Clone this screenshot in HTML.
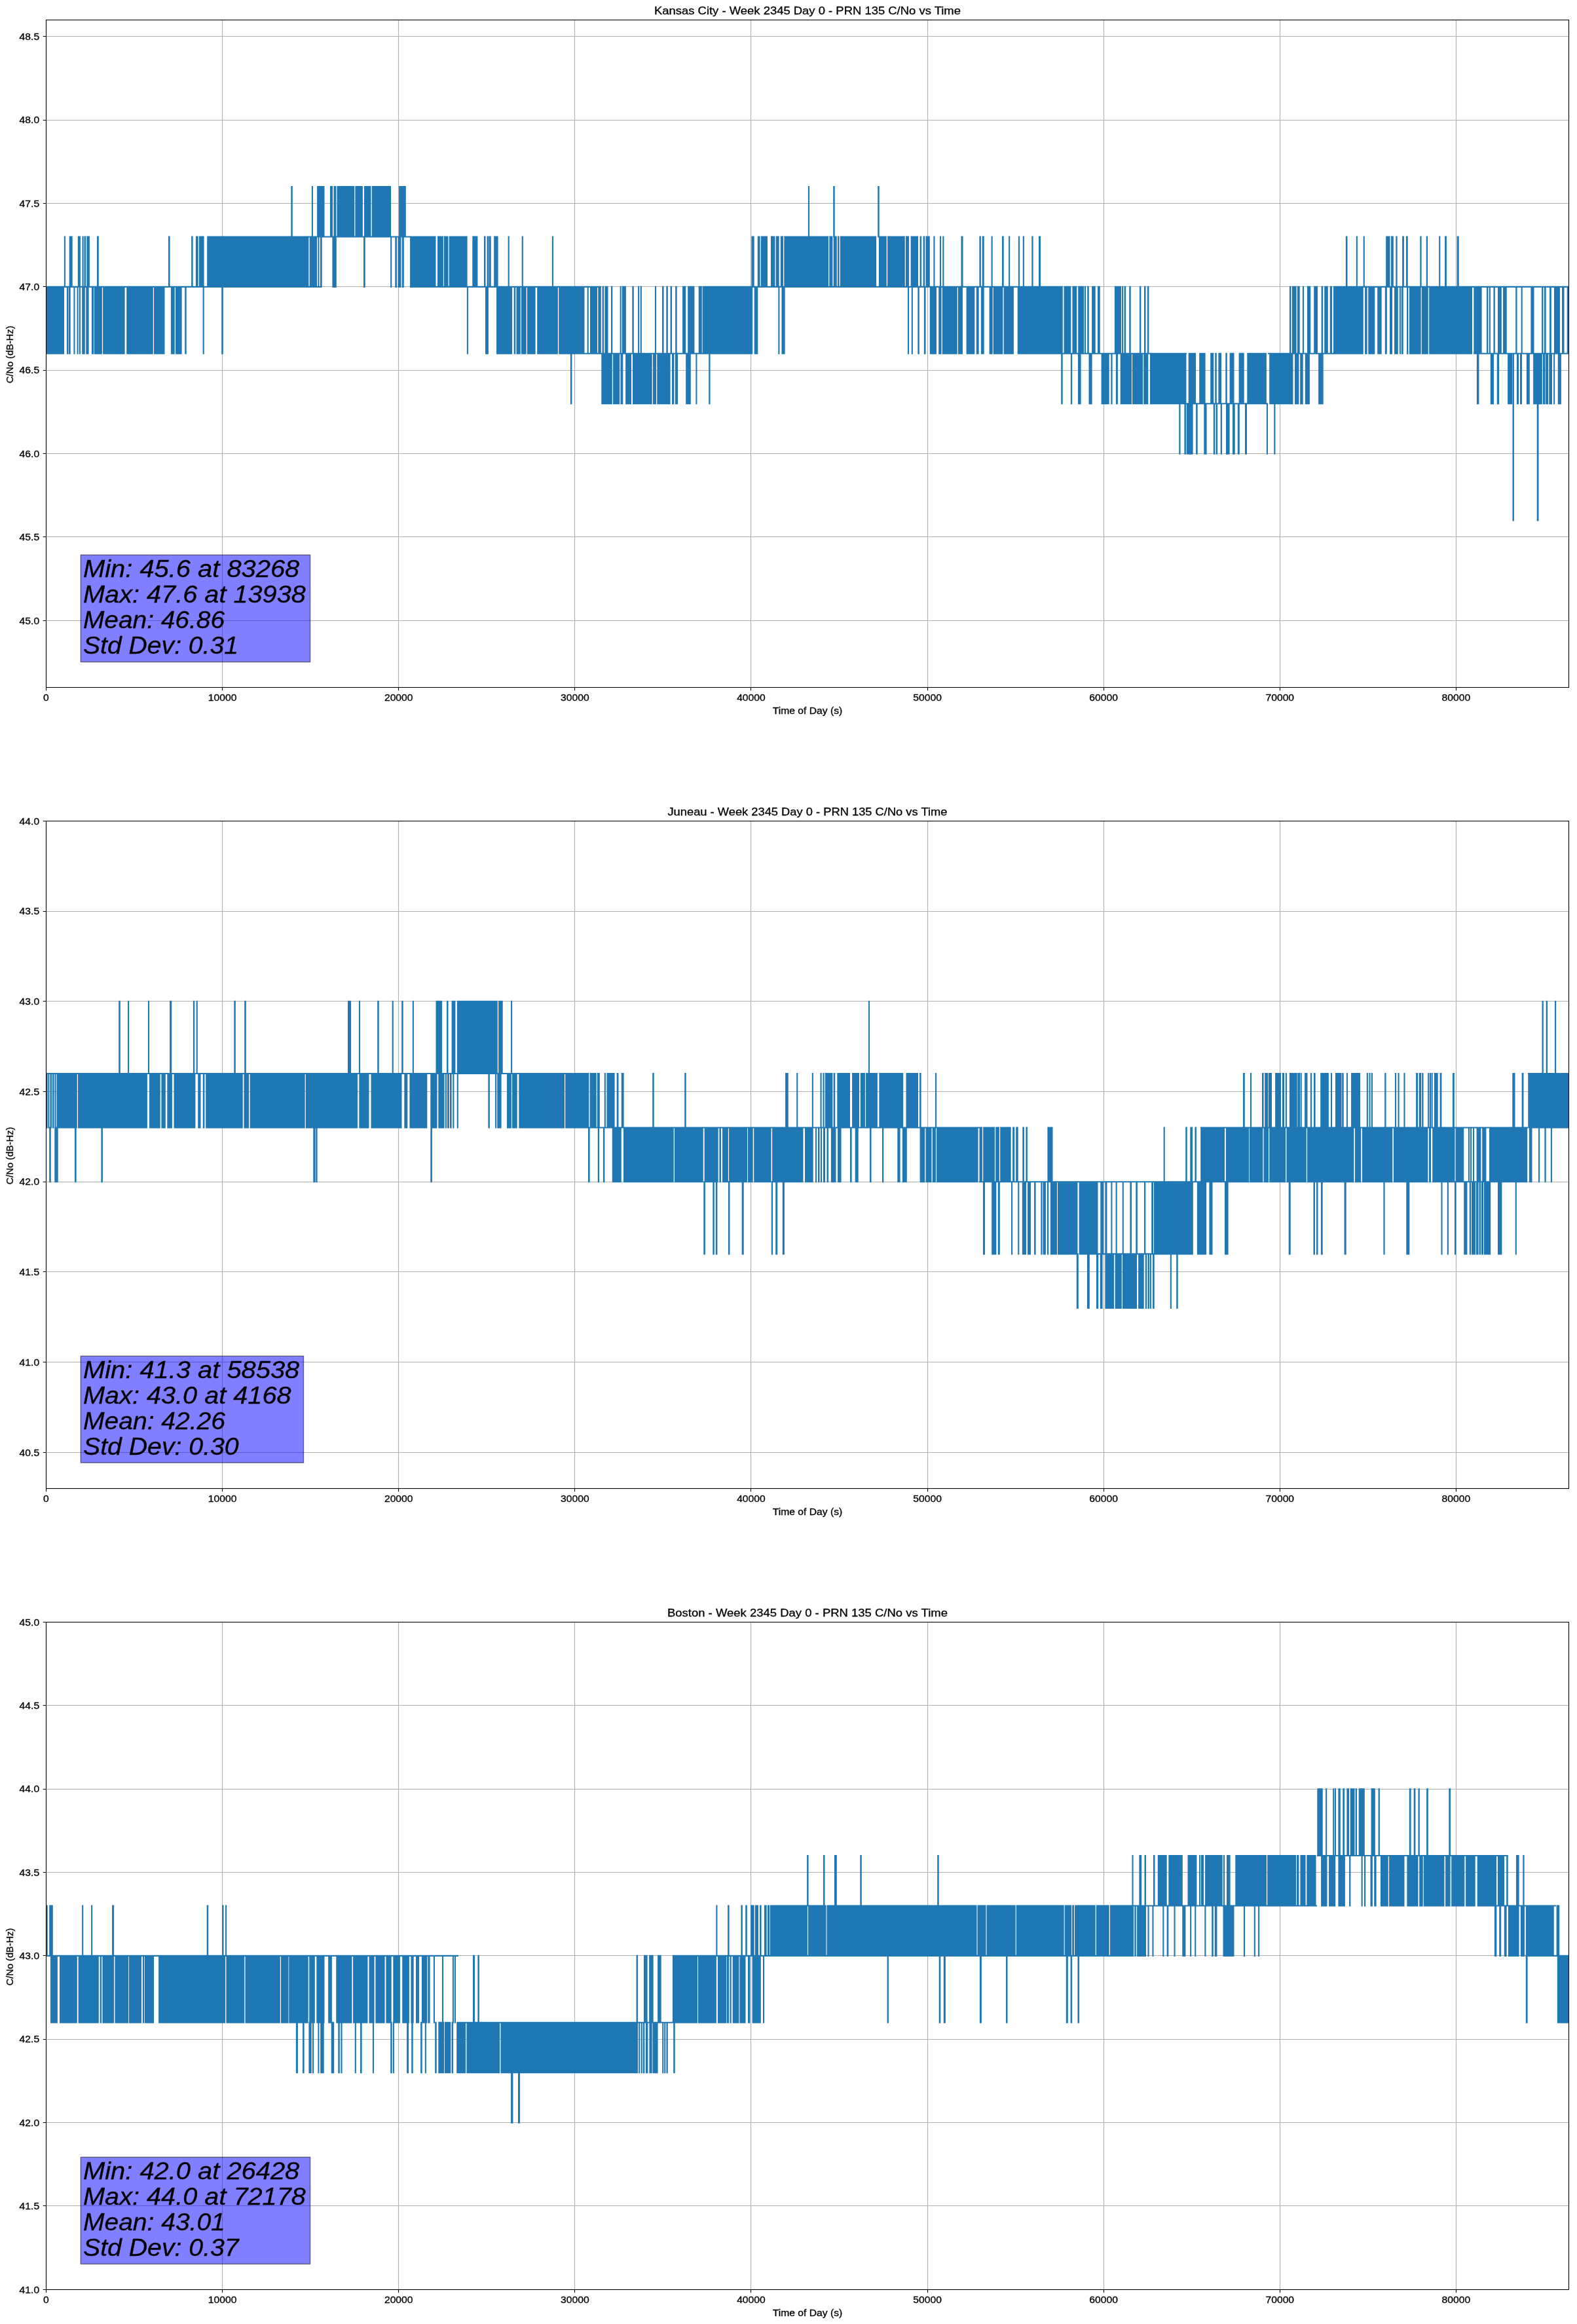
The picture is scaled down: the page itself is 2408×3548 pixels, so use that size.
<!DOCTYPE html><html><head><meta charset="utf-8"><style>html,body{margin:0;padding:0;background:#fff;}svg{display:block;will-change:transform;}text{font-family:"Liberation Sans",sans-serif;fill:#000;stroke:#000;stroke-width:0.3px;}</style></head><body>
<svg width="2408" height="3548" viewBox="0 0 2408 3548">
<rect x="0" y="0" width="2408" height="3548" fill="#fff"/>
<defs><clipPath id="clip0"><rect x="70.5" y="30.3" width="2324.9" height="1018.9000000000001"/></clipPath></defs>
<path d="M339.50 30.30V1049.20M608.50 30.30V1049.20M877.50 30.30V1049.20M1146.50 30.30V1049.20M1416.50 30.30V1049.20M1685.50 30.30V1049.20M1954.50 30.30V1049.20M2223.50 30.30V1049.20M70.50 947.50H2395.40M70.50 819.50H2395.40M70.50 692.50H2395.40M70.50 565.50H2395.40M70.50 437.50H2395.40M70.50 310.50H2395.40M70.50 183.50H2395.40M70.50 55.50H2395.40" stroke="#b0b0b0" stroke-width="1.11" fill="none"/>
<path clip-path="url(#clip0)" d="M97.86 360.40H99.94V438.90H97.86ZM105.70 360.40H110.70V438.90H105.70ZM118.80 360.40H122.90V438.90H118.80ZM125.56 360.40H127.64V438.90H125.56ZM128.50 360.40H131.00V438.90H128.50ZM132.30 360.40H136.90V438.90H132.30ZM148.00 360.40H150.80V438.90H148.00ZM257.00 360.40H259.60V438.90H257.00ZM292.10 360.40H294.60V438.90H292.10ZM298.90 360.40H302.70V438.90H298.90ZM304.00 360.40H311.60V438.90H304.00ZM316.20 360.40H460.00V438.90H316.20ZM460.00 360.40H471.40V438.90H460.00ZM472.70 360.40H484.10V438.90H472.70ZM485.40 360.40H487.50V438.90H485.40ZM489.00 360.40H491.70V438.90H489.00ZM507.40 360.40H513.80V438.90H507.40ZM555.00 360.40H557.70V438.90H555.00ZM596.16 360.40H598.24V438.90H596.16ZM603.30 360.40H606.00V438.90H603.30ZM607.50 360.40H612.50V438.90H607.50ZM613.80 360.40H616.80V438.90H613.80ZM626.10 360.40H665.50V438.90H626.10ZM668.00 360.40H676.90V438.90H668.00ZM678.00 360.40H684.50V438.90H678.00ZM685.70 360.40H713.60V438.90H685.70ZM721.30 360.40H729.40V438.90H721.30ZM739.00 360.40H741.50V438.90H739.00ZM743.60 360.40H746.60V438.90H743.60ZM747.00 360.40H749.70V438.90H747.00ZM754.20 360.40H760.60V438.90H754.20ZM775.66 360.40H777.74V438.90H775.66ZM796.76 360.40H798.84V438.90H796.76ZM842.86 360.40H844.94V438.90H842.86ZM1147.40 360.40H1151.70V438.90H1147.40ZM1156.80 360.40H1160.60V438.90H1156.80ZM1161.80 360.40H1172.00V438.90H1161.80ZM1177.00 360.40H1183.40V438.90H1177.00ZM1184.70 360.40H1189.70V438.90H1184.70ZM1191.80 360.40H1196.00V438.90H1191.80ZM1197.30 360.40H1260.00V438.90H1197.30ZM1260.00 360.40H1265.00V438.90H1260.00ZM1266.30 360.40H1271.40V438.90H1266.30ZM1272.70 360.40H1277.80V438.90H1272.70ZM1279.00 360.40H1281.50V438.90H1279.00ZM1282.80 360.40H1338.10V438.90H1282.80ZM1341.90 360.40H1353.80V438.90H1341.90ZM1355.10 360.40H1381.80V438.90H1355.10ZM1383.00 360.40H1388.10V438.90H1383.00ZM1390.60 360.40H1402.00V438.90H1390.60ZM1404.60 360.40H1407.10V438.90H1404.60ZM1409.60 360.40H1412.20V438.90H1409.60ZM1413.50 360.40H1419.80V438.90H1413.50ZM1425.36 360.40H1427.44V438.90H1425.36ZM1434.96 360.40H1437.04V438.90H1434.96ZM1439.30 360.40H1441.40V438.90H1439.30ZM1467.50 360.40H1470.50V438.90H1467.50ZM1495.40 360.40H1497.90V438.90H1495.40ZM1499.70 360.40H1502.70V438.90H1499.70ZM1513.60 360.40H1515.70V438.90H1513.60ZM1530.00 360.40H1532.70V438.90H1530.00ZM1540.11 360.40H1542.19V438.90H1540.11ZM1554.86 360.40H1556.94V438.90H1554.86ZM1561.80 360.40H1563.90V438.90H1561.80ZM1575.30 360.40H1577.60V438.90H1575.30ZM1586.00 360.40H1589.00V438.90H1586.00ZM2054.90 360.40H2057.50V438.90H2054.90ZM2070.81 360.40H2072.89V438.90H2070.81ZM2081.71 360.40H2083.79V438.90H2081.71ZM2116.20 360.40H2122.50V438.90H2116.20ZM2124.10 360.40H2127.80V438.90H2124.10ZM2131.30 360.40H2133.60V438.90H2131.30ZM2141.10 360.40H2143.90V438.90H2141.10ZM2146.90 360.40H2149.70V438.90H2146.90ZM2168.30 360.40H2170.60V438.90H2168.30ZM2177.80 360.40H2180.10V438.90H2177.80ZM2197.21 360.40H2199.29V438.90H2197.21ZM2206.10 360.40H2208.90V438.90H2206.10ZM2224.70 360.40H2227.70V438.90H2224.70ZM444.30 283.99H446.80V362.48H444.30ZM475.86 283.99H477.94V362.48H475.86ZM484.10 283.99H495.50V362.48H484.10ZM503.90 283.99H508.00V362.48H503.90ZM509.50 283.99H513.30V362.48H509.50ZM514.50 283.99H541.20V362.48H514.50ZM542.40 283.99H553.90V362.48H542.40ZM555.90 283.99H566.50V362.48H555.90ZM567.80 283.99H597.00V362.48H567.80ZM609.10 283.99H619.80V362.48H609.10ZM1233.96 283.99H1236.04V362.48H1233.96ZM1272.20 283.99H1274.70V362.48H1272.20ZM1340.20 283.99H1342.70V362.48H1340.20ZM70.50 436.82H98.00V540.79H70.50ZM101.90 436.82H104.40V540.79H101.90ZM105.00 436.82H107.70V540.79H105.00ZM112.46 436.82H114.54V540.79H112.46ZM117.56 436.82H119.64V540.79H117.56ZM120.86 436.82H122.94V540.79H120.86ZM125.20 436.82H129.80V540.79H125.20ZM131.30 436.82H135.60V540.79H131.30ZM139.90 436.82H143.00V540.79H139.90ZM143.70 436.82H155.90V540.79H143.70ZM157.10 436.82H190.60V540.79H157.10ZM193.20 436.82H233.80V540.79H193.20ZM235.00 436.82H251.50V540.79H235.00ZM260.90 436.82H266.70V540.79H260.90ZM268.00 436.82H277.60V540.79H268.00ZM282.20 436.82H284.70V540.79H282.20ZM309.66 436.82H311.74V540.79H309.66ZM338.20 436.82H340.80V540.79H338.20ZM712.86 436.82H714.94V540.79H712.86ZM741.00 436.82H745.90V540.79H741.00ZM758.00 436.82H782.10V540.79H758.00ZM784.70 436.82H787.20V540.79H784.70ZM788.50 436.82H794.80V540.79H788.50ZM796.00 436.82H803.70V540.79H796.00ZM805.00 436.82H817.60V540.79H805.00ZM820.20 436.82H851.90V540.79H820.20ZM853.20 436.82H860.00V540.79H853.20ZM860.00 436.82H892.50V540.79H860.00ZM896.66 436.82H898.74V540.79H896.66ZM901.00 436.82H912.00V540.79H901.00ZM913.30 436.82H917.80V540.79H913.30ZM919.60 436.82H922.00V540.79H919.60ZM923.40 436.82H928.50V540.79H923.40ZM933.00 436.82H935.30V540.79H933.00ZM946.70 436.82H948.80V540.79H946.70ZM950.00 436.82H955.90V540.79H950.00ZM965.30 436.82H967.80V540.79H965.30ZM974.10 436.82H976.20V540.79H974.10ZM977.81 436.82H979.89V540.79H977.81ZM999.96 436.82H1002.04V540.79H999.96ZM1011.00 436.82H1013.50V540.79H1011.00ZM1017.30 436.82H1019.80V540.79H1017.30ZM1023.60 436.82H1026.10V540.79H1023.60ZM1031.20 436.82H1033.70V540.79H1031.20ZM1042.10 436.82H1047.20V540.79H1042.10ZM1050.20 436.82H1060.40V540.79H1050.20ZM1066.70 436.82H1071.80V540.79H1066.70ZM1072.60 436.82H1149.20V540.79H1072.60ZM1151.70 436.82H1157.30V540.79H1151.70ZM1188.31 436.82H1190.39V540.79H1188.31ZM1193.50 436.82H1198.60V540.79H1193.50ZM1386.00 436.82H1388.10V540.79H1386.00ZM1391.76 436.82H1393.84V540.79H1391.76ZM1401.30 436.82H1403.80V540.79H1401.30ZM1410.90 436.82H1413.50V540.79H1410.90ZM1419.80 436.82H1430.00V540.79H1419.80ZM1433.20 436.82H1437.60V540.79H1433.20ZM1438.80 436.82H1461.70V540.79H1438.80ZM1462.90 436.82H1470.00V540.79H1462.90ZM1475.60 436.82H1488.30V540.79H1475.60ZM1490.80 436.82H1494.60V540.79H1490.80ZM1497.90 436.82H1502.70V540.79H1497.90ZM1510.60 436.82H1515.70V540.79H1510.60ZM1516.70 436.82H1531.40V540.79H1516.70ZM1532.70 436.82H1547.90V540.79H1532.70ZM1553.70 436.82H1622.70V540.79H1553.70ZM1624.50 436.82H1635.40V540.79H1624.50ZM1637.40 436.82H1644.30V540.79H1637.40ZM1646.20 436.82H1655.10V540.79H1646.20ZM1656.01 436.82H1658.09V540.79H1656.01ZM1660.20 436.82H1662.70V540.79H1660.20ZM1667.10 436.82H1672.70V540.79H1667.10ZM1676.00 436.82H1679.80V540.79H1676.00ZM1701.90 436.82H1712.00V540.79H1701.90ZM1713.11 436.82H1715.19V540.79H1713.11ZM1716.60 436.82H1719.10V540.79H1716.60ZM1724.20 436.82H1726.70V540.79H1724.20ZM1739.90 436.82H1742.40V540.79H1739.90ZM1747.00 436.82H1749.50V540.79H1747.00ZM1751.80 436.82H1754.40V540.79H1751.80ZM1969.00 436.82H1971.50V540.79H1969.00ZM1973.00 436.82H1979.60V540.79H1973.00ZM1980.90 436.82H1984.70V540.79H1980.90ZM1988.96 436.82H1991.04V540.79H1988.96ZM1996.00 436.82H2001.20V540.79H1996.00ZM2006.20 436.82H2012.00V540.79H2006.20ZM2017.60 436.82H2020.20V540.79H2017.60ZM2022.20 436.82H2027.80V540.79H2022.20ZM2030.80 436.82H2034.10V540.79H2030.80ZM2035.90 436.82H2060.00V540.79H2035.90ZM2040.00 436.82H2081.80V540.79H2040.00ZM2084.10 436.82H2087.60V540.79H2084.10ZM2089.30 436.82H2099.30V540.79H2089.30ZM2103.20 436.82H2109.70V540.79H2103.20ZM2114.80 436.82H2117.80V540.79H2114.80ZM2122.00 436.82H2126.00V540.79H2122.00ZM2129.00 436.82H2134.80V540.79H2129.00ZM2136.86 436.82H2138.94V540.79H2136.86ZM2139.90 436.82H2142.70V540.79H2139.90ZM2148.00 436.82H2150.40V540.79H2148.00ZM2152.00 436.82H2169.70V540.79H2152.00ZM2170.80 436.82H2180.80V540.79H2170.80ZM2182.20 436.82H2248.00V540.79H2182.20ZM2250.30 436.82H2262.60V540.79H2250.30ZM2270.00 436.82H2272.40V540.79H2270.00ZM2273.86 436.82H2275.94V540.79H2273.86ZM2280.50 436.82H2282.80V540.79H2280.50ZM2287.00 436.82H2292.80V540.79H2287.00ZM2295.10 436.82H2300.70V540.79H2295.10ZM2314.20 436.82H2316.50V540.79H2314.20ZM2322.66 436.82H2324.74V540.79H2322.66ZM2337.40 436.82H2342.50V540.79H2337.40ZM2354.10 436.82H2356.50V540.79H2354.10ZM2358.00 436.82H2360.60V540.79H2358.00ZM2366.00 436.82H2368.80V540.79H2366.00ZM2373.00 436.82H2382.00V540.79H2373.00ZM2385.00 436.82H2388.50V540.79H2385.00ZM2392.70 436.82H2395.50V540.79H2392.70ZM870.90 538.71H873.40V617.21H870.90ZM918.30 538.71H934.80V617.21H918.30ZM936.10 538.71H946.20V617.21H936.10ZM947.50 538.71H951.30V617.21H947.50ZM955.10 538.71H964.00V617.21H955.10ZM966.00 538.71H995.70V617.21H966.00ZM997.00 538.71H1002.00V617.21H997.00ZM1003.30 538.71H1023.60V617.21H1003.30ZM1026.00 538.71H1029.40V617.21H1026.00ZM1031.00 538.71H1035.00V617.21H1031.00ZM1047.20 538.71H1054.80V617.21H1047.20ZM1062.36 538.71H1064.44V617.21H1062.36ZM1082.20 538.71H1084.50V617.21H1082.20ZM1620.20 538.71H1622.70V617.21H1620.20ZM1634.90 538.71H1637.20V617.21H1634.90ZM1646.00 538.71H1650.60V617.21H1646.00ZM1662.50 538.71H1667.60V617.21H1662.50ZM1681.60 538.71H1693.70V617.21H1681.60ZM1696.30 538.71H1698.60V617.21H1696.30ZM1703.90 538.71H1706.90V617.21H1703.90ZM1710.70 538.71H1728.00V617.21H1710.70ZM1729.00 538.71H1745.00V617.21H1729.00ZM1746.20 538.71H1753.30V617.21H1746.20ZM1755.90 538.71H1811.40V617.21H1755.90ZM1814.70 538.71H1826.10V617.21H1814.70ZM1831.20 538.71H1840.60V617.21H1831.20ZM1848.20 538.71H1853.30V617.21H1848.20ZM1855.30 538.71H1857.80V617.21H1855.30ZM1860.40 538.71H1865.00V617.21H1860.40ZM1871.30 538.71H1873.80V617.21H1871.30ZM1877.60 538.71H1884.50V617.21H1877.60ZM1891.60 538.71H1899.70V617.21H1891.60ZM1904.30 538.71H1933.90V617.21H1904.30ZM1938.20 538.71H1974.50V617.21H1938.20ZM1977.00 538.71H1983.40V617.21H1977.00ZM1985.20 538.71H1989.70V617.21H1985.20ZM1992.80 538.71H1999.90V617.21H1992.80ZM2013.10 538.71H2020.70V617.21H2013.10ZM2254.90 538.71H2258.40V617.21H2254.90ZM2275.80 538.71H2281.00V617.21H2275.80ZM2285.80 538.71H2289.10V617.21H2285.80ZM2302.10 538.71H2309.10V617.21H2302.10ZM2316.00 538.71H2319.00V617.21H2316.00ZM2321.00 538.71H2324.00V617.21H2321.00ZM2330.90 538.71H2335.80V617.21H2330.90ZM2341.10 538.71H2354.90V617.21H2341.10ZM2356.00 538.71H2359.50V617.21H2356.00ZM2360.20 538.71H2364.10V617.21H2360.20ZM2365.30 538.71H2370.00V617.21H2365.30ZM2372.11 538.71H2374.19V617.21H2372.11ZM2378.80 538.71H2383.90V617.21H2378.80ZM1800.30 615.13H1802.50V693.63H1800.30ZM1808.40 615.13H1810.90V693.63H1808.40ZM1811.70 615.13H1821.60V693.63H1811.70ZM1826.10 615.13H1828.70V693.63H1826.10ZM1838.30 615.13H1842.60V693.63H1838.30ZM1852.80 615.13H1855.30V693.63H1852.80ZM1856.60 615.13H1859.00V693.63H1856.60ZM1863.70 615.13H1866.00V693.63H1863.70ZM1872.00 615.13H1877.60V693.63H1872.00ZM1882.00 615.13H1885.70V693.63H1882.00ZM1889.80 615.13H1892.80V693.63H1889.80ZM1901.00 615.13H1904.00V693.63H1901.00ZM1933.90 615.13H1936.00V693.63H1933.90ZM1945.30 615.13H1947.40V693.63H1945.30ZM2309.50 538.71H2311.90V795.51H2309.50ZM2346.70 615.13H2349.50V795.51H2346.70ZM70.50 436.82H491.00V438.90H70.50ZM626.00 436.82H918.00V438.90H626.00ZM870.00 538.71H1148.00V540.79H870.00ZM1148.00 436.82H1622.00V438.90H1148.00ZM1622.00 538.71H1812.00V540.79H1622.00ZM1936.00 538.71H2040.00V540.79H1936.00ZM1800.00 615.13H1936.00V617.21H1800.00ZM2040.00 436.82H2395.50V438.90H2040.00ZM2250.00 538.71H2395.50V540.79H2250.00ZM460.00 360.40H630.00V362.48H460.00Z" fill="#1f77b4"/>
<rect x="70.5" y="30.5" width="2325.0" height="1019.0" fill="none" stroke="#000" stroke-width="1.11"/>
<path d="M70.50 1049.50v4.86M339.50 1049.50v4.86M608.50 1049.50v4.86M877.50 1049.50v4.86M1146.50 1049.50v4.86M1416.50 1049.50v4.86M1685.50 1049.50v4.86M1954.50 1049.50v4.86M2223.50 1049.50v4.86M70.50 947.50h-4.86M70.50 819.50h-4.86M70.50 692.50h-4.86M70.50 565.50h-4.86M70.50 437.50h-4.86M70.50 310.50h-4.86M70.50 183.50h-4.86M70.50 55.50h-4.86" stroke="#000" stroke-width="1.11" fill="none"/>
<text x="70.50" y="1069.50" font-size="13.89" text-anchor="middle" textLength="8.72" lengthAdjust="spacingAndGlyphs">0</text>
<text x="339.61" y="1069.50" font-size="13.89" text-anchor="middle" textLength="43.60" lengthAdjust="spacingAndGlyphs">10000</text>
<text x="608.73" y="1069.50" font-size="13.89" text-anchor="middle" textLength="43.60" lengthAdjust="spacingAndGlyphs">20000</text>
<text x="877.84" y="1069.50" font-size="13.89" text-anchor="middle" textLength="43.60" lengthAdjust="spacingAndGlyphs">30000</text>
<text x="1146.95" y="1069.50" font-size="13.89" text-anchor="middle" textLength="43.60" lengthAdjust="spacingAndGlyphs">40000</text>
<text x="1416.07" y="1069.50" font-size="13.89" text-anchor="middle" textLength="43.60" lengthAdjust="spacingAndGlyphs">50000</text>
<text x="1685.18" y="1069.50" font-size="13.89" text-anchor="middle" textLength="43.60" lengthAdjust="spacingAndGlyphs">60000</text>
<text x="1954.29" y="1069.50" font-size="13.89" text-anchor="middle" textLength="43.60" lengthAdjust="spacingAndGlyphs">70000</text>
<text x="2223.40" y="1069.50" font-size="13.89" text-anchor="middle" textLength="43.60" lengthAdjust="spacingAndGlyphs">80000</text>
<text x="29.62" y="952.51" font-size="13.89" textLength="30.52" lengthAdjust="spacingAndGlyphs">45.0</text>
<text x="29.62" y="825.15" font-size="13.89" textLength="30.52" lengthAdjust="spacingAndGlyphs">45.5</text>
<text x="29.62" y="697.79" font-size="13.89" textLength="30.52" lengthAdjust="spacingAndGlyphs">46.0</text>
<text x="29.62" y="570.42" font-size="13.89" textLength="30.52" lengthAdjust="spacingAndGlyphs">46.5</text>
<text x="29.62" y="443.06" font-size="13.89" textLength="30.52" lengthAdjust="spacingAndGlyphs">47.0</text>
<text x="29.62" y="315.70" font-size="13.89" textLength="30.52" lengthAdjust="spacingAndGlyphs">47.5</text>
<text x="29.62" y="188.34" font-size="13.89" textLength="30.52" lengthAdjust="spacingAndGlyphs">48.0</text>
<text x="29.62" y="60.97" font-size="13.89" textLength="30.52" lengthAdjust="spacingAndGlyphs">48.5</text>
<text x="1232.95" y="1089.80" font-size="13.89" text-anchor="middle" textLength="106.5" lengthAdjust="spacingAndGlyphs">Time of Day (s)</text>
<text transform="translate(19.6 541.25) rotate(-90)" x="0" y="0" font-size="13.89" text-anchor="middle" textLength="87.5" lengthAdjust="spacingAndGlyphs">C/No (dB-Hz)</text>
<text x="1232.95" y="22.20" font-size="16.67" text-anchor="middle" textLength="468" lengthAdjust="spacingAndGlyphs">Kansas City - Week 2345 Day 0 - PRN 135 C/No vs Time</text>
<rect x="123.3" y="847.2" width="350.30" height="163.40" fill="#0000ff" fill-opacity="0.5" stroke="#000" stroke-opacity="0.5" stroke-width="1.39"/>
<text x="127" y="880.70" font-size="36.5" font-style="italic" stroke-width="0.6" textLength="330.3" lengthAdjust="spacingAndGlyphs">Min: 45.6 at 83268</text>
<text x="127" y="919.87" font-size="36.5" font-style="italic" stroke-width="0.6" textLength="339.8" lengthAdjust="spacingAndGlyphs">Max: 47.6 at 13938</text>
<text x="127" y="959.04" font-size="36.5" font-style="italic" stroke-width="0.6" textLength="216" lengthAdjust="spacingAndGlyphs">Mean: 46.86</text>
<text x="127" y="998.21" font-size="36.5" font-style="italic" stroke-width="0.6" textLength="237" lengthAdjust="spacingAndGlyphs">Std Dev: 0.31</text>
<defs><clipPath id="clip1"><rect x="70.5" y="1253.3" width="2324.9" height="1019.2"/></clipPath></defs>
<path d="M339.50 1253.30V2272.50M608.50 1253.30V2272.50M877.50 1253.30V2272.50M1146.50 1253.30V2272.50M1416.50 1253.30V2272.50M1685.50 1253.30V2272.50M1954.50 1253.30V2272.50M2223.50 1253.30V2272.50M70.50 2217.50H2395.40M70.50 2079.50H2395.40M70.50 1941.50H2395.40M70.50 1804.50H2395.40M70.50 1666.50H2395.40M70.50 1528.50H2395.40M70.50 1391.50H2395.40M70.50 1253.50H2395.40" stroke="#b0b0b0" stroke-width="1.11" fill="none"/>
<path clip-path="url(#clip1)" d="M70.56 1637.90H72.64V1722.62H70.56ZM73.31 1637.90H75.39V1722.62H73.31ZM76.50 1637.90H79.00V1722.62H76.50ZM80.00 1637.90H82.50V1722.62H80.00ZM83.46 1637.90H85.54V1722.62H83.46ZM86.50 1637.90H91.70V1722.62H86.50ZM91.70 1637.90H117.80V1722.62H91.70ZM119.00 1637.90H224.90V1722.62H119.00ZM227.90 1637.90H244.70V1722.62H227.90ZM246.40 1637.90H252.80V1722.62H246.40ZM255.30 1637.90H262.90V1722.62H255.30ZM265.50 1637.90H298.40V1722.62H265.50ZM302.20 1637.90H306.50V1722.62H302.20ZM309.80 1637.90H312.40V1722.62H309.80ZM314.20 1637.90H370.70V1722.62H314.20ZM372.50 1637.90H380.10V1722.62H372.50ZM381.60 1637.90H460.00V1722.62H381.60ZM460.00 1637.90H465.60V1722.62H460.00ZM466.80 1637.90H546.20V1722.62H466.80ZM548.30 1637.90H563.50V1722.62H548.30ZM566.50 1637.90H613.50V1722.62H566.50ZM617.30 1637.90H622.30V1722.62H617.30ZM625.40 1637.90H652.30V1722.62H625.40ZM657.30 1637.90H667.50V1722.62H657.30ZM669.30 1637.90H678.60V1722.62H669.30ZM679.96 1637.90H682.04V1722.62H679.96ZM683.00 1637.90H685.80V1722.62H683.00ZM687.00 1637.90H689.60V1722.62H687.00ZM691.30 1637.90H693.40V1722.62H691.30ZM697.76 1637.90H699.84V1722.62H697.76ZM745.40 1637.90H747.90V1722.62H745.40ZM756.11 1637.90H758.19V1722.62H756.11ZM759.30 1637.90H765.60V1722.62H759.30ZM774.00 1637.90H780.90V1722.62H774.00ZM782.10 1637.90H789.70V1722.62H782.10ZM792.30 1637.90H860.00V1722.62H792.30ZM859.91 1637.90H861.99V1722.62H859.91ZM863.20 1637.90H899.30V1722.62H863.20ZM900.60 1637.90H910.70V1722.62H900.60ZM912.00 1637.90H915.80V1722.62H912.00ZM922.76 1637.90H924.84V1722.62H922.76ZM926.50 1637.90H938.60V1722.62H926.50ZM941.70 1637.90H944.50V1722.62H941.70ZM948.80 1637.90H952.60V1722.62H948.80ZM996.20 1637.90H998.70V1722.62H996.20ZM1045.20 1637.90H1047.70V1722.62H1045.20ZM1199.10 1637.90H1203.70V1722.62H1199.10ZM1216.21 1637.90H1218.29V1722.62H1216.21ZM1239.81 1637.90H1241.89V1722.62H1239.81ZM1252.51 1637.90H1254.59V1722.62H1252.51ZM1256.50 1637.90H1258.70V1722.62H1256.50ZM1260.00 1637.90H1271.40V1722.62H1260.00ZM1272.70 1637.90H1275.20V1722.62H1272.70ZM1278.30 1637.90H1298.00V1722.62H1278.30ZM1301.10 1637.90H1312.00V1722.62H1301.10ZM1313.80 1637.90H1320.90V1722.62H1313.80ZM1322.10 1637.90H1339.90V1722.62H1322.10ZM1342.40 1637.90H1379.20V1722.62H1342.40ZM1383.50 1637.90H1402.00V1722.62H1383.50ZM1404.00 1637.90H1406.60V1722.62H1404.00ZM1428.06 1637.90H1430.14V1722.62H1428.06ZM1898.00 1637.90H1900.80V1722.62H1898.00ZM1908.96 1637.90H1911.04V1722.62H1908.96ZM1927.00 1637.90H1929.60V1722.62H1927.00ZM1931.20 1637.90H1936.30V1722.62H1931.20ZM1937.00 1637.90H1942.00V1722.62H1937.00ZM1947.10 1637.90H1956.00V1722.62H1947.10ZM1957.90 1637.90H1961.00V1722.62H1957.90ZM1962.86 1637.90H1964.94V1722.62H1962.86ZM1968.90 1637.90H1980.70V1722.62H1968.90ZM1981.30 1637.90H1985.10V1722.62H1981.30ZM1985.66 1637.90H1987.74V1722.62H1985.66ZM1992.10 1637.90H1996.50V1722.62H1992.10ZM2000.91 1637.90H2002.99V1722.62H2000.91ZM2006.00 1637.90H2008.60V1722.62H2006.00ZM2016.20 1637.90H2028.90V1722.62H2016.20ZM2031.96 1637.90H2034.04V1722.62H2031.96ZM2039.00 1637.90H2048.50V1722.62H2039.00ZM2049.20 1637.90H2051.70V1722.62H2049.20ZM2056.01 1637.90H2058.09V1722.62H2056.01ZM2063.10 1637.90H2077.00V1722.62H2063.10ZM2086.81 1637.90H2088.89V1722.62H2086.81ZM2090.46 1637.90H2092.54V1722.62H2090.46ZM2093.91 1637.90H2095.99V1722.62H2093.91ZM2114.20 1637.90H2116.50V1722.62H2114.20ZM2129.96 1637.90H2132.04V1722.62H2129.96ZM2134.46 1637.90H2136.54V1722.62H2134.46ZM2143.40 1637.90H2145.50V1722.62H2143.40ZM2162.10 1637.90H2165.10V1722.62H2162.10ZM2166.70 1637.90H2170.10V1722.62H2166.70ZM2171.20 1637.90H2173.50V1722.62H2171.20ZM2180.16 1637.90H2182.24V1722.62H2180.16ZM2182.96 1637.90H2185.04V1722.62H2182.96ZM2185.56 1637.90H2187.64V1722.62H2185.56ZM2190.00 1637.90H2195.70V1722.62H2190.00ZM2198.60 1637.90H2201.40V1722.62H2198.60ZM2218.00 1637.90H2220.80V1722.62H2218.00ZM2309.30 1637.90H2313.50V1722.62H2309.30ZM2323.70 1637.90H2326.50V1722.62H2323.70ZM2333.30 1637.90H2395.40V1722.62H2333.30ZM181.20 1527.72H183.80V1639.98H181.20ZM195.06 1527.72H197.14V1639.98H195.06ZM225.96 1527.72H228.04V1639.98H225.96ZM259.10 1527.72H262.20V1639.98H259.10ZM294.90 1527.72H297.20V1639.98H294.90ZM299.66 1527.72H301.74V1639.98H299.66ZM357.30 1527.72H359.80V1639.98H357.30ZM373.20 1527.72H375.80V1639.98H373.20ZM531.00 1527.72H536.10V1639.98H531.00ZM547.96 1527.72H550.04V1639.98H547.96ZM576.20 1527.72H578.70V1639.98H576.20ZM598.70 1527.72H600.80V1639.98H598.70ZM613.20 1527.72H615.70V1639.98H613.20ZM629.81 1527.72H631.89V1639.98H629.81ZM665.50 1527.72H675.10V1639.98H665.50ZM682.00 1527.72H684.50V1639.98H682.00ZM689.60 1527.72H695.40V1639.98H689.60ZM697.90 1527.72H759.80V1639.98H697.90ZM761.10 1527.72H767.70V1639.98H761.10ZM780.06 1527.72H782.14V1639.98H780.06ZM1325.96 1527.72H1328.04V1639.98H1325.96ZM2354.50 1527.72H2356.80V1639.98H2354.50ZM2360.70 1527.72H2363.00V1639.98H2360.70ZM2374.00 1527.72H2376.20V1639.98H2374.00ZM75.20 1720.54H77.80V1805.26H75.20ZM83.30 1720.54H88.70V1805.26H83.30ZM114.00 1720.54H116.60V1805.26H114.00ZM154.40 1720.54H156.90V1805.26H154.40ZM478.30 1720.54H481.60V1805.26H478.30ZM482.30 1720.54H484.60V1805.26H482.30ZM657.30 1720.54H659.90V1805.26H657.30ZM898.00 1720.54H900.60V1805.26H898.00ZM912.80 1720.54H915.00V1805.26H912.80ZM920.90 1720.54H923.40V1805.26H920.90ZM934.80 1720.54H948.80V1805.26H934.80ZM952.00 1720.54H1028.70V1805.26H952.00ZM1030.00 1720.54H1073.80V1805.26H1030.00ZM1075.60 1720.54H1096.70V1805.26H1075.60ZM1098.40 1720.54H1101.00V1805.26H1098.40ZM1103.00 1720.54H1111.90V1805.26H1103.00ZM1113.10 1720.54H1141.00V1805.26H1113.10ZM1142.00 1720.54H1149.70V1805.26H1142.00ZM1151.20 1720.54H1177.60V1805.26H1151.20ZM1179.10 1720.54H1226.50V1805.26H1179.10ZM1229.00 1720.54H1241.70V1805.26H1229.00ZM1244.96 1720.54H1247.04V1805.26H1244.96ZM1249.00 1720.54H1251.50V1805.26H1249.00ZM1252.96 1720.54H1255.04V1805.26H1252.96ZM1257.00 1720.54H1260.00V1805.26H1257.00ZM1262.50 1720.54H1265.00V1805.26H1262.50ZM1268.90 1720.54H1276.50V1805.26H1268.90ZM1279.00 1720.54H1284.60V1805.26H1279.00ZM1298.00 1720.54H1300.60V1805.26H1298.00ZM1305.70 1720.54H1310.70V1805.26H1305.70ZM1328.00 1720.54H1330.50V1805.26H1328.00ZM1347.00 1720.54H1349.30V1805.26H1347.00ZM1370.30 1720.54H1374.60V1805.26H1370.30ZM1377.90 1720.54H1384.80V1805.26H1377.90ZM1404.60 1720.54H1412.20V1805.26H1404.60ZM1413.50 1720.54H1422.50V1805.26H1413.50ZM1423.80 1720.54H1428.90V1805.26H1423.80ZM1430.10 1720.54H1493.60V1805.26H1430.10ZM1495.50 1720.54H1499.90V1805.26H1495.50ZM1501.20 1720.54H1518.90V1805.26H1501.20ZM1520.20 1720.54H1525.90V1805.26H1520.20ZM1527.20 1720.54H1543.70V1805.26H1527.20ZM1546.10 1720.54H1549.20V1805.26H1546.10ZM1551.20 1720.54H1554.70V1805.26H1551.20ZM1561.30 1720.54H1563.90V1805.26H1561.30ZM1566.40 1720.54H1568.90V1805.26H1566.40ZM1599.40 1720.54H1607.50V1805.26H1599.40ZM1776.66 1720.54H1778.74V1805.26H1776.66ZM1810.20 1720.54H1812.70V1805.26H1810.20ZM1817.30 1720.54H1821.00V1805.26H1817.30ZM1824.40 1720.54H1826.90V1805.26H1824.40ZM1833.20 1720.54H1870.00V1805.26H1833.20ZM1871.80 1720.54H1907.30V1805.26H1871.80ZM1908.00 1720.54H1928.40V1805.26H1908.00ZM1929.60 1720.54H1937.00V1805.26H1929.60ZM1938.20 1720.54H1963.10V1805.26H1938.20ZM1964.40 1720.54H1994.80V1805.26H1964.40ZM1996.10 1720.54H2060.00V1805.26H1996.10ZM2040.00 1720.54H2067.40V1805.26H2040.00ZM2069.00 1720.54H2078.30V1805.26H2069.00ZM2080.00 1720.54H2126.30V1805.26H2080.00ZM2127.90 1720.54H2180.40V1805.26H2127.90ZM2182.00 1720.54H2185.00V1805.26H2182.00ZM2187.20 1720.54H2221.50V1805.26H2187.20ZM2222.60 1720.54H2235.20V1805.26H2222.60ZM2241.96 1720.54H2244.04V1805.26H2241.96ZM2244.96 1720.54H2247.04V1805.26H2244.96ZM2249.00 1720.54H2251.10V1805.26H2249.00ZM2254.60 1720.54H2261.40V1805.26H2254.60ZM2263.20 1720.54H2269.40V1805.26H2263.20ZM2274.00 1720.54H2332.20V1805.26H2274.00ZM2334.90 1720.54H2339.50V1805.26H2334.90ZM2349.06 1720.54H2351.14V1805.26H2349.06ZM2358.40 1720.54H2360.70V1805.26H2358.40ZM2367.86 1720.54H2369.94V1805.26H2367.86ZM1074.30 1803.18H1076.90V1915.44H1074.30ZM1088.30 1803.18H1090.80V1915.44H1088.30ZM1092.80 1803.18H1095.40V1915.44H1092.80ZM1111.90 1803.18H1114.40V1915.44H1111.90ZM1132.70 1803.18H1135.70V1915.44H1132.70ZM1177.80 1803.18H1180.10V1915.44H1177.80ZM1184.20 1803.18H1187.20V1915.44H1184.20ZM1194.80 1803.18H1197.90V1915.44H1194.80ZM1501.00 1803.18H1504.00V1915.44H1501.00ZM1514.20 1803.18H1521.30V1915.44H1514.20ZM1523.80 1803.18H1526.80V1915.44H1523.80ZM1544.06 1803.18H1546.14V1915.44H1544.06ZM1554.20 1803.18H1556.30V1915.44H1554.20ZM1560.80 1803.18H1567.10V1915.44H1560.80ZM1569.00 1803.18H1574.10V1915.44H1569.00ZM1579.10 1803.18H1581.60V1915.44H1579.10ZM1589.30 1803.18H1591.50V1915.44H1589.30ZM1592.50 1803.18H1596.90V1915.44H1592.50ZM1599.00 1803.18H1601.20V1915.44H1599.00ZM1603.90 1803.18H1614.00V1915.44H1603.90ZM1615.00 1803.18H1645.50V1915.44H1615.00ZM1647.60 1803.18H1660.00V1915.44H1647.60ZM1660.00 1803.18H1676.50V1915.44H1660.00ZM1680.30 1803.18H1684.90V1915.44H1680.30ZM1687.40 1803.18H1690.40V1915.44H1687.40ZM1696.36 1803.18H1698.44V1915.44H1696.36ZM1703.60 1803.18H1705.70V1915.44H1703.60ZM1713.76 1803.18H1715.84V1915.44H1713.76ZM1725.40 1803.18H1728.00V1915.44H1725.40ZM1734.30 1803.18H1736.90V1915.44H1734.30ZM1747.00 1803.18H1749.30V1915.44H1747.00ZM1758.20 1803.18H1761.00V1915.44H1758.20ZM1762.00 1803.18H1821.80V1915.44H1762.00ZM1827.90 1803.18H1842.10V1915.44H1827.90ZM1846.40 1803.18H1851.50V1915.44H1846.40ZM1870.00 1803.18H1875.60V1915.44H1870.00ZM1967.70 1803.18H1970.70V1915.44H1967.70ZM2005.50 1803.18H2008.00V1915.44H2005.50ZM2010.00 1803.18H2012.50V1915.44H2010.00ZM2016.90 1803.18H2019.70V1915.44H2016.90ZM2052.60 1803.18H2055.70V1915.44H2052.60ZM2112.40 1803.18H2114.60V1915.44H2112.40ZM2147.30 1803.18H2152.30V1915.44H2147.30ZM2200.46 1803.18H2202.54V1915.44H2200.46ZM2209.81 1803.18H2211.89V1915.44H2209.81ZM2221.00 1803.18H2223.30V1915.44H2221.00ZM2235.20 1803.18H2240.40V1915.44H2235.20ZM2243.80 1803.18H2246.00V1915.44H2243.80ZM2247.00 1803.18H2253.00V1915.44H2247.00ZM2254.00 1803.18H2257.50V1915.44H2254.00ZM2258.50 1803.18H2261.00V1915.44H2258.50ZM2262.00 1803.18H2265.00V1915.44H2262.00ZM2266.00 1803.18H2276.20V1915.44H2266.00ZM2287.00 1803.18H2293.40V1915.44H2287.00ZM2313.76 1803.18H2315.84V1915.44H2313.76ZM1643.80 1913.36H1646.80V1998.08H1643.80ZM1660.00 1913.36H1663.80V1998.08H1660.00ZM1674.00 1913.36H1677.20V1998.08H1674.00ZM1679.80 1913.36H1683.60V1998.08H1679.80ZM1687.40 1913.36H1701.10V1998.08H1687.40ZM1702.60 1913.36H1712.80V1998.08H1702.60ZM1714.00 1913.36H1736.10V1998.08H1714.00ZM1738.10 1913.36H1746.70V1998.08H1738.10ZM1748.80 1913.36H1751.00V1998.08H1748.80ZM1752.50 1913.36H1755.00V1998.08H1752.50ZM1755.96 1913.36H1758.04V1998.08H1755.96ZM1760.00 1913.36H1762.70V1998.08H1760.00ZM1786.80 1913.36H1788.90V1998.08H1786.80ZM1796.20 1913.36H1798.70V1998.08H1796.20ZM70.50 1637.90H899.00V1639.98H70.50ZM899.00 1720.54H1500.00V1722.62H899.00ZM1495.00 1803.18H1833.00V1805.26H1495.00ZM1660.00 1913.36H1763.00V1915.44H1660.00ZM1833.00 1720.54H2333.00V1722.62H1833.00ZM2235.00 1803.18H2274.00V1805.26H2235.00ZM2333.00 1637.90H2395.40V1639.98H2333.00Z" fill="#1f77b4"/>
<rect x="70.5" y="1253.5" width="2325.0" height="1019.0" fill="none" stroke="#000" stroke-width="1.11"/>
<path d="M70.50 2272.50v4.86M339.50 2272.50v4.86M608.50 2272.50v4.86M877.50 2272.50v4.86M1146.50 2272.50v4.86M1416.50 2272.50v4.86M1685.50 2272.50v4.86M1954.50 2272.50v4.86M2223.50 2272.50v4.86M70.50 2217.50h-4.86M70.50 2079.50h-4.86M70.50 1941.50h-4.86M70.50 1804.50h-4.86M70.50 1666.50h-4.86M70.50 1528.50h-4.86M70.50 1391.50h-4.86M70.50 1253.50h-4.86" stroke="#000" stroke-width="1.11" fill="none"/>
<text x="70.50" y="2292.80" font-size="13.89" text-anchor="middle" textLength="8.72" lengthAdjust="spacingAndGlyphs">0</text>
<text x="339.61" y="2292.80" font-size="13.89" text-anchor="middle" textLength="43.60" lengthAdjust="spacingAndGlyphs">10000</text>
<text x="608.73" y="2292.80" font-size="13.89" text-anchor="middle" textLength="43.60" lengthAdjust="spacingAndGlyphs">20000</text>
<text x="877.84" y="2292.80" font-size="13.89" text-anchor="middle" textLength="43.60" lengthAdjust="spacingAndGlyphs">30000</text>
<text x="1146.95" y="2292.80" font-size="13.89" text-anchor="middle" textLength="43.60" lengthAdjust="spacingAndGlyphs">40000</text>
<text x="1416.07" y="2292.80" font-size="13.89" text-anchor="middle" textLength="43.60" lengthAdjust="spacingAndGlyphs">50000</text>
<text x="1685.18" y="2292.80" font-size="13.89" text-anchor="middle" textLength="43.60" lengthAdjust="spacingAndGlyphs">60000</text>
<text x="1954.29" y="2292.80" font-size="13.89" text-anchor="middle" textLength="43.60" lengthAdjust="spacingAndGlyphs">70000</text>
<text x="2223.40" y="2292.80" font-size="13.89" text-anchor="middle" textLength="43.60" lengthAdjust="spacingAndGlyphs">80000</text>
<text x="29.62" y="2222.61" font-size="13.89" textLength="30.52" lengthAdjust="spacingAndGlyphs">40.5</text>
<text x="29.62" y="2084.88" font-size="13.89" textLength="30.52" lengthAdjust="spacingAndGlyphs">41.0</text>
<text x="29.62" y="1947.15" font-size="13.89" textLength="30.52" lengthAdjust="spacingAndGlyphs">41.5</text>
<text x="29.62" y="1809.42" font-size="13.89" textLength="30.52" lengthAdjust="spacingAndGlyphs">42.0</text>
<text x="29.62" y="1671.69" font-size="13.89" textLength="30.52" lengthAdjust="spacingAndGlyphs">42.5</text>
<text x="29.62" y="1533.96" font-size="13.89" textLength="30.52" lengthAdjust="spacingAndGlyphs">43.0</text>
<text x="29.62" y="1396.23" font-size="13.89" textLength="30.52" lengthAdjust="spacingAndGlyphs">43.5</text>
<text x="29.62" y="1258.50" font-size="13.89" textLength="30.52" lengthAdjust="spacingAndGlyphs">44.0</text>
<text x="1232.95" y="2313.10" font-size="13.89" text-anchor="middle" textLength="106.5" lengthAdjust="spacingAndGlyphs">Time of Day (s)</text>
<text transform="translate(19.6 1764.40) rotate(-90)" x="0" y="0" font-size="13.89" text-anchor="middle" textLength="87.5" lengthAdjust="spacingAndGlyphs">C/No (dB-Hz)</text>
<text x="1232.95" y="1245.20" font-size="16.67" text-anchor="middle" textLength="427" lengthAdjust="spacingAndGlyphs">Juneau - Week 2345 Day 0 - PRN 135 C/No vs Time</text>
<rect x="123.3" y="2070.3" width="340.20" height="162.80" fill="#0000ff" fill-opacity="0.5" stroke="#000" stroke-opacity="0.5" stroke-width="1.39"/>
<text x="127" y="2103.80" font-size="36.5" font-style="italic" stroke-width="0.6" textLength="330.3" lengthAdjust="spacingAndGlyphs">Min: 41.3 at 58538</text>
<text x="127" y="2142.97" font-size="36.5" font-style="italic" stroke-width="0.6" textLength="317.5" lengthAdjust="spacingAndGlyphs">Max: 43.0 at 4168</text>
<text x="127" y="2182.14" font-size="36.5" font-style="italic" stroke-width="0.6" textLength="217" lengthAdjust="spacingAndGlyphs">Mean: 42.26</text>
<text x="127" y="2221.31" font-size="36.5" font-style="italic" stroke-width="0.6" textLength="237.7" lengthAdjust="spacingAndGlyphs">Std Dev: 0.30</text>
<defs><clipPath id="clip2"><rect x="70.5" y="2476.5" width="2324.9" height="1018.8000000000002"/></clipPath></defs>
<path d="M339.50 2476.50V3495.30M608.50 2476.50V3495.30M877.50 2476.50V3495.30M1146.50 2476.50V3495.30M1416.50 2476.50V3495.30M1685.50 2476.50V3495.30M1954.50 2476.50V3495.30M2223.50 2476.50V3495.30M70.50 3495.50H2395.40M70.50 3367.50H2395.40M70.50 3240.50H2395.40M70.50 3113.50H2395.40M70.50 2985.50H2395.40M70.50 2858.50H2395.40M70.50 2731.50H2395.40M70.50 2603.50H2395.40M70.50 2476.50H2395.40" stroke="#b0b0b0" stroke-width="1.11" fill="none"/>
<path clip-path="url(#clip2)" d="M70.66 2908.45H72.74V2986.94H70.66ZM75.20 2908.45H80.80V2986.94H75.20ZM125.16 2908.45H127.24V2986.94H125.16ZM139.10 2908.45H141.20V2986.94H139.10ZM171.10 2908.45H174.10V2986.94H171.10ZM315.70 2908.45H318.20V2986.94H315.70ZM339.00 2908.45H341.50V2986.94H339.00ZM344.06 2908.45H346.14V2986.94H344.06ZM1093.36 2908.45H1095.44V2986.94H1093.36ZM1111.10 2908.45H1113.60V2986.94H1111.10ZM1131.40 2908.45H1133.90V2986.94H1131.40ZM1138.20 2908.45H1140.80V2986.94H1138.20ZM1146.10 2908.45H1151.70V2986.94H1146.10ZM1153.00 2908.45H1158.00V2986.94H1153.00ZM1160.00 2908.45H1162.60V2986.94H1160.00ZM1166.90 2908.45H1170.70V2986.94H1166.90ZM1172.00 2908.45H1175.00V2986.94H1172.00ZM1175.80 2908.45H1232.90V2986.94H1175.80ZM1234.10 2908.45H1260.00V2986.94H1234.10ZM1259.46 2908.45H1261.54V2986.94H1259.46ZM1262.50 2908.45H1491.50V2986.94H1262.50ZM1492.50 2908.45H1505.50V2986.94H1492.50ZM1506.50 2908.45H1550.70V2986.94H1506.50ZM1551.70 2908.45H1624.70V2986.94H1551.70ZM1625.70 2908.45H1636.20V2986.94H1625.70ZM1637.20 2908.45H1640.00V2986.94H1637.20ZM1641.00 2908.45H1660.00V2986.94H1641.00ZM1660.00 2908.45H1672.70V2986.94H1660.00ZM1674.00 2908.45H1693.70V2986.94H1674.00ZM1695.00 2908.45H1731.00V2986.94H1695.00ZM1732.30 2908.45H1734.80V2986.94H1732.30ZM1736.10 2908.45H1750.00V2986.94H1736.10ZM1752.46 2908.45H1754.54V2986.94H1752.46ZM1759.40 2908.45H1761.50V2986.94H1759.40ZM1775.26 2908.45H1777.34V2986.94H1775.26ZM1781.70 2908.45H1784.30V2986.94H1781.70ZM1792.51 2908.45H1794.59V2986.94H1792.51ZM1805.30 2908.45H1810.40V2986.94H1805.30ZM1817.11 2908.45H1819.19V2986.94H1817.11ZM1824.21 2908.45H1826.29V2986.94H1824.21ZM1839.30 2908.45H1841.40V2986.94H1839.30ZM1850.20 2908.45H1852.80V2986.94H1850.20ZM1854.80 2908.45H1858.40V2986.94H1854.80ZM1867.50 2908.45H1884.50V2986.94H1867.50ZM1898.90 2908.45H1901.00V2986.94H1898.90ZM1914.76 2908.45H1916.84V2986.94H1914.76ZM1921.11 2908.45H1923.19V2986.94H1921.11ZM2281.90 2908.45H2285.30V2986.94H2281.90ZM2289.20 2908.45H2292.20V2986.94H2289.20ZM2296.80 2908.45H2300.60V2986.94H2296.80ZM2302.90 2908.45H2319.60V2986.94H2302.90ZM2321.90 2908.45H2328.00V2986.94H2321.90ZM2329.80 2908.45H2372.80V2986.94H2329.80ZM2376.60 2908.45H2381.20V2986.94H2376.60ZM1232.10 2832.04H1234.60V2910.53H1232.10ZM1257.00 2832.04H1259.50V2910.53H1257.00ZM1274.00 2832.04H1277.80V2910.53H1274.00ZM1313.30 2832.04H1315.80V2910.53H1313.30ZM1431.20 2832.04H1433.70V2910.53H1431.20ZM1728.46 2832.04H1730.54V2910.53H1728.46ZM1739.40 2832.04H1743.20V2910.53H1739.40ZM1747.50 2832.04H1750.00V2910.53H1747.50ZM1761.00 2832.04H1763.50V2910.53H1761.00ZM1767.80 2832.04H1781.70V2910.53H1767.80ZM1784.30 2832.04H1805.80V2910.53H1784.30ZM1813.50 2832.04H1827.40V2910.53H1813.50ZM1831.06 2832.04H1833.14V2910.53H1831.06ZM1833.96 2832.04H1836.04V2910.53H1833.96ZM1836.01 2832.04H1838.09V2910.53H1836.01ZM1840.10 2832.04H1866.70V2910.53H1840.10ZM1867.96 2832.04H1870.04V2910.53H1867.96ZM1873.00 2832.04H1878.60V2910.53H1873.00ZM1886.30 2832.04H1933.90V2910.53H1886.30ZM1935.20 2832.04H1979.10V2910.53H1935.20ZM1980.10 2832.04H1983.40V2910.53H1980.10ZM1985.40 2832.04H1993.60V2910.53H1985.40ZM1995.30 2832.04H2009.50V2910.53H1995.30ZM2017.10 2832.04H2026.50V2910.53H2017.10ZM2029.10 2832.04H2039.20V2910.53H2029.10ZM2044.30 2832.04H2053.90V2910.53H2044.30ZM2043.40 2832.04H2053.70V2910.53H2043.40ZM2060.10 2832.04H2062.40V2910.53H2060.10ZM2078.61 2832.04H2080.69V2910.53H2078.61ZM2083.00 2832.04H2085.20V2910.53H2083.00ZM2092.50 2832.04H2095.90V2910.53H2092.50ZM2098.20 2832.04H2101.60V2910.53H2098.20ZM2108.00 2832.04H2119.80V2910.53H2108.00ZM2121.10 2832.04H2144.50V2910.53H2121.10ZM2148.40 2832.04H2165.50V2910.53H2148.40ZM2167.20 2832.04H2172.80V2910.53H2167.20ZM2173.80 2832.04H2205.50V2910.53H2173.80ZM2207.10 2832.04H2214.60V2910.53H2207.10ZM2216.20 2832.04H2236.30V2910.53H2216.20ZM2238.10 2832.04H2252.70V2910.53H2238.10ZM2255.70 2832.04H2285.00V2910.53H2255.70ZM2286.90 2832.04H2297.00V2910.53H2286.90ZM2300.20 2832.04H2302.70V2910.53H2300.20ZM2315.00 2832.04H2319.60V2910.53H2315.00ZM2325.30 2832.04H2327.60V2910.53H2325.30ZM2011.30 2730.16H2019.70V2834.12H2011.30ZM2024.11 2730.16H2026.19V2834.12H2024.11ZM2035.16 2730.16H2037.24V2834.12H2035.16ZM2037.96 2730.16H2040.04V2834.12H2037.96ZM2044.11 2730.16H2046.19V2834.12H2044.11ZM2050.60 2730.16H2053.10V2834.12H2050.60ZM2057.00 2730.16H2060.00V2834.12H2057.00ZM2043.40 2730.16H2046.80V2834.12H2043.40ZM2050.30 2730.16H2052.60V2834.12H2050.30ZM2056.40 2730.16H2058.70V2834.12H2056.40ZM2061.70 2730.16H2068.50V2834.12H2061.70ZM2069.70 2730.16H2072.00V2834.12H2069.70ZM2074.70 2730.16H2083.80V2834.12H2074.70ZM2093.60 2730.16H2099.80V2834.12H2093.60ZM2104.60 2730.16H2106.90V2834.12H2104.60ZM2151.80 2730.16H2154.60V2834.12H2151.80ZM2158.70 2730.16H2161.40V2834.12H2158.70ZM2165.50 2730.16H2167.80V2834.12H2165.50ZM2178.10 2730.16H2180.80V2834.12H2178.10ZM2212.30 2730.16H2215.00V2834.12H2212.30ZM77.00 2984.86H87.90V3088.82H77.00ZM91.00 2984.86H117.80V3088.82H91.00ZM119.60 2984.86H150.80V3088.82H119.60ZM152.60 2984.86H155.10V3088.82H152.60ZM156.40 2984.86H174.10V3088.82H156.40ZM175.40 2984.86H196.00V3088.82H175.40ZM196.80 2984.86H216.00V3088.82H196.80ZM217.80 2984.86H220.30V3088.82H217.80ZM221.00 2984.86H235.00V3088.82H221.00ZM242.10 2984.86H344.10V3088.82H242.10ZM345.40 2984.86H373.20V3088.82H345.40ZM374.50 2984.86H427.80V3088.82H374.50ZM429.00 2984.86H440.50V3088.82H429.00ZM441.20 2984.86H460.00V3088.82H441.20ZM460.00 2984.86H470.70V3088.82H460.00ZM472.20 2984.86H480.80V3088.82H472.20ZM483.30 2984.86H495.50V3088.82H483.30ZM501.10 2984.86H506.90V3088.82H501.10ZM513.30 2984.86H537.40V3088.82H513.30ZM539.10 2984.86H561.50V3088.82H539.10ZM563.50 2984.86H571.60V3088.82H563.50ZM573.40 2984.86H587.60V3088.82H573.40ZM589.40 2984.86H597.70V3088.82H589.40ZM600.30 2984.86H610.90V3088.82H600.30ZM614.20 2984.86H624.90V3088.82H614.20ZM627.40 2984.86H631.70V3088.82H627.40ZM635.00 2984.86H640.10V3088.82H635.00ZM643.90 2984.86H652.30V3088.82H643.90ZM653.30 2984.86H656.60V3088.82H653.30ZM661.91 2984.86H663.99V3088.82H661.91ZM674.96 2984.86H677.04V3088.82H674.96ZM690.86 2984.86H692.94V3088.82H690.86ZM693.91 2984.86H695.99V3088.82H693.91ZM722.00 2984.86H725.10V3088.82H722.00ZM729.40 2984.86H731.90V3088.82H729.40ZM971.60 2984.86H974.10V3088.82H971.60ZM983.00 2984.86H988.60V3088.82H983.00ZM991.10 2984.86H997.70V3088.82H991.10ZM1004.10 2984.86H1009.70V3088.82H1004.10ZM1026.90 2984.86H1065.00V3088.82H1026.90ZM1066.00 2984.86H1093.90V3088.82H1066.00ZM1095.90 2984.86H1109.10V3088.82H1095.90ZM1109.80 2984.86H1113.10V3088.82H1109.80ZM1114.40 2984.86H1116.70V3088.82H1114.40ZM1118.70 2984.86H1128.40V3088.82H1118.70ZM1129.40 2984.86H1138.50V3088.82H1129.40ZM1142.00 2984.86H1145.40V3088.82H1142.00ZM1148.60 2984.86H1161.80V3088.82H1148.60ZM1164.96 2984.86H1167.04V3088.82H1164.96ZM1354.60 2984.86H1356.90V3088.82H1354.60ZM1433.70 2984.86H1436.30V3088.82H1433.70ZM1440.80 2984.86H1443.90V3088.82H1440.80ZM1495.90 2984.86H1498.90V3088.82H1495.90ZM1536.00 2984.86H1538.50V3088.82H1536.00ZM1627.80 2984.86H1630.80V3088.82H1627.80ZM1634.60 2984.86H1637.20V3088.82H1634.60ZM1645.50 2984.86H1648.10V3088.82H1645.50ZM2329.80 2984.86H2332.60V3088.82H2329.80ZM2377.80 2984.86H2395.30V3088.82H2377.80ZM451.90 3086.74H454.90V3165.23H451.90ZM462.00 3086.74H464.60V3165.23H462.00ZM471.40 3086.74H475.70V3165.23H471.40ZM476.96 3086.74H479.04V3165.23H476.96ZM485.36 3086.74H487.44V3165.23H485.36ZM489.20 3086.74H494.70V3165.23H489.20ZM505.70 3086.74H510.20V3165.23H505.70ZM516.30 3086.74H518.80V3165.23H516.30ZM520.40 3086.74H522.60V3165.23H520.40ZM541.76 3086.74H543.84V3165.23H541.76ZM550.00 3086.74H552.60V3165.23H550.00ZM568.91 3086.74H570.99V3165.23H568.91ZM596.20 3086.74H598.70V3165.23H596.20ZM599.96 3086.74H602.04V3165.23H599.96ZM621.10 3086.74H624.10V3165.23H621.10ZM628.20 3086.74H630.70V3165.23H628.20ZM642.10 3086.74H644.70V3165.23H642.10ZM648.81 3086.74H650.89V3165.23H648.81ZM664.20 3086.74H666.70V3165.23H664.20ZM669.30 3086.74H678.10V3165.23H669.30ZM678.90 3086.74H688.30V3165.23H678.90ZM689.60 3086.74H692.10V3165.23H689.60ZM697.20 3086.74H711.10V3165.23H697.20ZM712.40 3086.74H763.10V3165.23H712.40ZM764.40 3086.74H860.00V3165.23H764.40ZM860.00 3086.74H974.10V3165.23H860.00ZM975.16 3086.74H977.24V3165.23H975.16ZM978.71 3086.74H980.79V3165.23H978.71ZM981.80 3086.74H984.30V3165.23H981.80ZM986.00 3086.74H989.40V3165.23H986.00ZM991.40 3086.74H995.70V3165.23H991.40ZM996.50 3086.74H1004.60V3165.23H996.50ZM1011.16 3086.74H1013.24V3165.23H1011.16ZM1014.21 3086.74H1016.29V3165.23H1014.21ZM1017.50 3086.74H1019.80V3165.23H1017.50ZM1028.20 3086.74H1030.70V3165.23H1028.20ZM780.10 3163.15H783.40V3241.64H780.10ZM791.00 3163.15H794.00V3241.64H791.00ZM70.50 2984.86H700.00V2986.94H70.50ZM700.00 3086.74H1027.00V3088.82H700.00ZM1027.00 2984.86H1728.00V2986.94H1027.00ZM1728.00 2908.45H2011.00V2910.53H1728.00ZM2011.00 2832.04H2302.00V2834.12H2011.00ZM2282.00 2908.45H2376.00V2910.53H2282.00ZM2329.00 2984.86H2395.30V2986.94H2329.00Z" fill="#1f77b4"/>
<rect x="70.5" y="2476.5" width="2325.0" height="1019.0" fill="none" stroke="#000" stroke-width="1.11"/>
<path d="M70.50 3495.50v4.86M339.50 3495.50v4.86M608.50 3495.50v4.86M877.50 3495.50v4.86M1146.50 3495.50v4.86M1416.50 3495.50v4.86M1685.50 3495.50v4.86M1954.50 3495.50v4.86M2223.50 3495.50v4.86M70.50 3495.50h-4.86M70.50 3367.50h-4.86M70.50 3240.50h-4.86M70.50 3113.50h-4.86M70.50 2985.50h-4.86M70.50 2858.50h-4.86M70.50 2731.50h-4.86M70.50 2603.50h-4.86M70.50 2476.50h-4.86" stroke="#000" stroke-width="1.11" fill="none"/>
<text x="70.50" y="3515.60" font-size="13.89" text-anchor="middle" textLength="8.72" lengthAdjust="spacingAndGlyphs">0</text>
<text x="339.61" y="3515.60" font-size="13.89" text-anchor="middle" textLength="43.60" lengthAdjust="spacingAndGlyphs">10000</text>
<text x="608.73" y="3515.60" font-size="13.89" text-anchor="middle" textLength="43.60" lengthAdjust="spacingAndGlyphs">20000</text>
<text x="877.84" y="3515.60" font-size="13.89" text-anchor="middle" textLength="43.60" lengthAdjust="spacingAndGlyphs">30000</text>
<text x="1146.95" y="3515.60" font-size="13.89" text-anchor="middle" textLength="43.60" lengthAdjust="spacingAndGlyphs">40000</text>
<text x="1416.07" y="3515.60" font-size="13.89" text-anchor="middle" textLength="43.60" lengthAdjust="spacingAndGlyphs">50000</text>
<text x="1685.18" y="3515.60" font-size="13.89" text-anchor="middle" textLength="43.60" lengthAdjust="spacingAndGlyphs">60000</text>
<text x="1954.29" y="3515.60" font-size="13.89" text-anchor="middle" textLength="43.60" lengthAdjust="spacingAndGlyphs">70000</text>
<text x="2223.40" y="3515.60" font-size="13.89" text-anchor="middle" textLength="43.60" lengthAdjust="spacingAndGlyphs">80000</text>
<text x="29.62" y="3500.50" font-size="13.89" textLength="30.52" lengthAdjust="spacingAndGlyphs">41.0</text>
<text x="29.62" y="3373.15" font-size="13.89" textLength="30.52" lengthAdjust="spacingAndGlyphs">41.5</text>
<text x="29.62" y="3245.80" font-size="13.89" textLength="30.52" lengthAdjust="spacingAndGlyphs">42.0</text>
<text x="29.62" y="3118.45" font-size="13.89" textLength="30.52" lengthAdjust="spacingAndGlyphs">42.5</text>
<text x="29.62" y="2991.10" font-size="13.89" textLength="30.52" lengthAdjust="spacingAndGlyphs">43.0</text>
<text x="29.62" y="2863.75" font-size="13.89" textLength="30.52" lengthAdjust="spacingAndGlyphs">43.5</text>
<text x="29.62" y="2736.40" font-size="13.89" textLength="30.52" lengthAdjust="spacingAndGlyphs">44.0</text>
<text x="29.62" y="2609.05" font-size="13.89" textLength="30.52" lengthAdjust="spacingAndGlyphs">44.5</text>
<text x="29.62" y="2481.70" font-size="13.89" textLength="30.52" lengthAdjust="spacingAndGlyphs">45.0</text>
<text x="1232.95" y="3535.90" font-size="13.89" text-anchor="middle" textLength="106.5" lengthAdjust="spacingAndGlyphs">Time of Day (s)</text>
<text transform="translate(19.6 2987.40) rotate(-90)" x="0" y="0" font-size="13.89" text-anchor="middle" textLength="87.5" lengthAdjust="spacingAndGlyphs">C/No (dB-Hz)</text>
<text x="1232.95" y="2468.40" font-size="16.67" text-anchor="middle" textLength="428" lengthAdjust="spacingAndGlyphs">Boston - Week 2345 Day 0 - PRN 135 C/No vs Time</text>
<rect x="123.3" y="3293.3" width="350.30" height="163.10" fill="#0000ff" fill-opacity="0.5" stroke="#000" stroke-opacity="0.5" stroke-width="1.39"/>
<text x="127" y="3326.80" font-size="36.5" font-style="italic" stroke-width="0.6" textLength="330.3" lengthAdjust="spacingAndGlyphs">Min: 42.0 at 26428</text>
<text x="127" y="3365.97" font-size="36.5" font-style="italic" stroke-width="0.6" textLength="339.8" lengthAdjust="spacingAndGlyphs">Max: 44.0 at 72178</text>
<text x="127" y="3405.14" font-size="36.5" font-style="italic" stroke-width="0.6" textLength="216.8" lengthAdjust="spacingAndGlyphs">Mean: 43.01</text>
<text x="127" y="3444.31" font-size="36.5" font-style="italic" stroke-width="0.6" textLength="237.7" lengthAdjust="spacingAndGlyphs">Std Dev: 0.37</text>
</svg></body></html>
